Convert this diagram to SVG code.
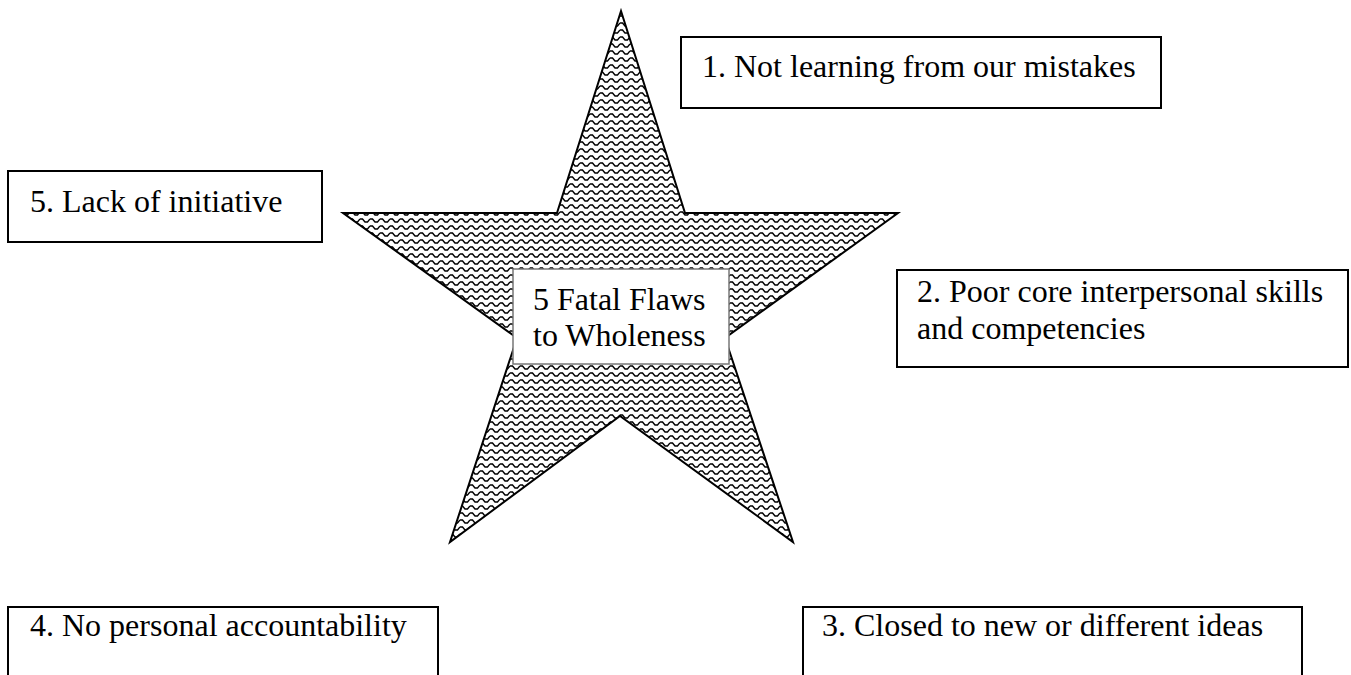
<svg xmlns="http://www.w3.org/2000/svg" width="1351" height="675" viewBox="0 0 1351 675">
<defs>
<pattern id="wave" width="10" height="7" patternUnits="userSpaceOnUse">
<rect width="10" height="7" fill="#fff"/>
<path d="M0 2 L2.5 2 L5 5 L7.5 5 L10 2" fill="none" stroke="#000" stroke-width="1.4"/>
</pattern>
<style>
.box{fill:#fff;stroke:#000;stroke-width:2}
.t{font-family:"Liberation Serif","Times New Roman",serif;font-size:32px;fill:#000}
</style>
</defs>
<rect width="1351" height="675" fill="#fff"/>
<g id="star">
<polygon points="621,11 685,213 898,213 725,338 793,542 620,416 450,542 517,338 343,213 557,213" fill="url(#wave)" stroke="#000" stroke-width="2" stroke-linejoin="miter"/>
</g>
<g id="center">
<rect x="513" y="269" width="216" height="95" fill="#fff" stroke="#777" stroke-width="1.5"/>
<text class="t" x="533" y="310">5 Fatal Flaws</text>
<text class="t" x="533" y="346">to Wholeness</text>
</g>
<g id="flaw1">
<rect class="box" x="681" y="37" width="480" height="71"/>
<text class="t" x="702" y="77">1. Not learning from our mistakes</text>
</g>
<g id="flaw2">
<rect class="box" x="897" y="270" width="451" height="97"/>
<text class="t" x="917" y="302">2. Poor core interpersonal skills</text>
<text class="t" x="917" y="339">and competencies</text>
</g>
<g id="flaw3">
<rect class="box" x="803" y="607" width="499" height="80"/>
<text class="t" x="822" y="636">3. Closed to new or different ideas</text>
</g>
<g id="flaw4">
<rect class="box" x="8" y="607" width="430" height="80"/>
<text class="t" x="30" y="636">4. No personal accountability</text>
</g>
<g id="flaw5">
<rect class="box" x="8" y="171" width="314" height="71"/>
<text class="t" x="30" y="212">5. Lack of initiative</text>
</g>
<g id="connectors"/>
</svg>
